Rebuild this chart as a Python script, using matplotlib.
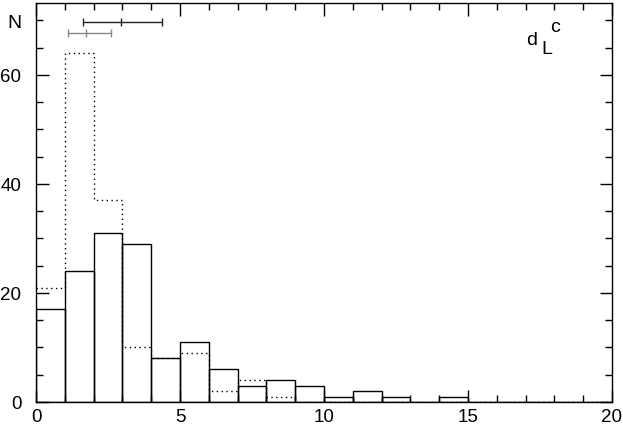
import matplotlib
matplotlib.use("Agg")
import matplotlib.pyplot as plt
import numpy as np
from matplotlib.ticker import MultipleLocator

plt.rcParams['font.family'] = ['Liberation Sans', 'DejaVu Sans']

bin_edges = list(range(0, 21))
solid_counts = [17, 24, 31, 29, 8, 11, 6, 3, 4, 3, 1, 2, 1, 0, 1, 0, 0, 0, 0, 0]
dotted_counts = [21, 64, 37, 10, 8, 9, 2, 4, 1, 0, 0, 0, 0, 0, 0, 0, 0, 0, 0, 0]

# error bars: (center, low, high, y)
black_bar = (2.95, 1.63, 4.38, 69.8)
gray_bar = (1.73, 1.12, 2.62, 67.75)

W, H = 623, 427
fig = plt.figure(figsize=(W/100, H/100), dpi=100)
ax = fig.add_axes([36/W, 1-403/H, 576/W, 399/H])

lw = 1.0
ax.stairs(dotted_counts, bin_edges, color='black', linestyle=(0, (1, 2.5)), linewidth=lw, baseline=None)
centers = [(bin_edges[i] + bin_edges[i+1]) / 2 for i in range(len(solid_counts))]
ax.bar(centers, solid_counts, width=1.0, facecolor='none', edgecolor='black', linewidth=lw)

for (c, lo, hi, y), col in [(black_bar, '#222222'), (gray_bar, '#888888')]:
    ax.errorbar([c], [y], xerr=[[c - lo], [hi - c]], fmt='none', ecolor=col,
                elinewidth=1.0, capsize=3, capthick=1.0)
    ax.plot([c], [y], marker='|', color=col, markersize=6, markeredgewidth=1.0)

ax.set_xlim(0, 20)
ax.set_ylim(0, 73.2)
ax.xaxis.set_major_locator(MultipleLocator(5))
ax.xaxis.set_minor_locator(MultipleLocator(1))
ax.yaxis.set_major_locator(MultipleLocator(20))
ax.yaxis.set_minor_locator(MultipleLocator(5))
ax.tick_params(which='both', direction='in', top=True, right=True, labelsize=13.5, width=1.0)
ax.tick_params(axis='x', which='both', pad=4.5)
ax.tick_params(axis='y', which='both', pad=10.5)
ax.tick_params(which='major', length=9)
ax.tick_params(which='minor', length=5)
for s in ax.spines.values():
    s.set_linewidth(1.0)

fs = 14
fig.text(21.7/W, 1-28.3/H, 'N', fontsize=fs, ha='right', va='baseline')
fig.text(526/W, 1-45/H, 'd', fontsize=fs, ha='left', va='baseline')
fig.text(541/W, 1-54.3/H, 'L', fontsize=fs, ha='left', va='baseline')
fig.text(550.5/W, 1-32.3/H, 'c', fontsize=fs, ha='left', va='baseline')

fig.savefig('out.png', dpi=100)
